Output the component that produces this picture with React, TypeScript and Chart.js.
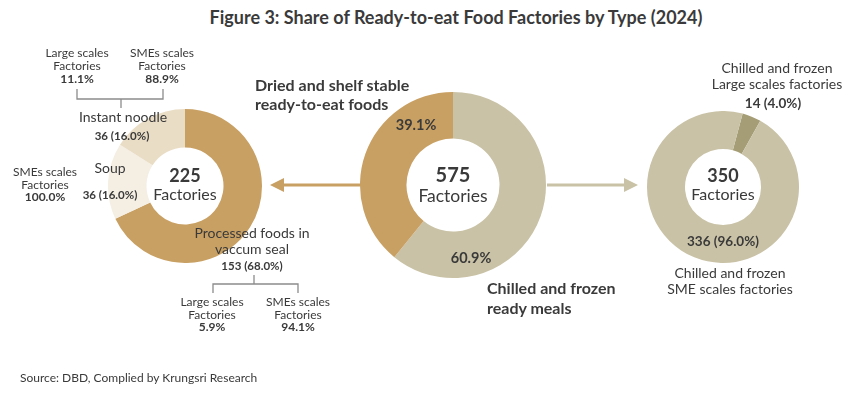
import React, { useEffect, useRef } from "react";
import { Chart, registerables } from "chart.js";

Chart.register(...registerables);

// ---- data ----
const leftLabels = ["Processed foods in vaccum seal", "Soup", "Instant noodle"];
const leftValues = [153, 36, 36];
const leftColors = ["#C9A063", "#F4EEE3", "#EADDC6"];

const midLabels = ["Chilled and frozen ready meals", "Dried and shelf stable ready-to-eat foods"];
const midValues = [350, 225];
const midColors = ["#C9C2A6", "#C9A063"];

const rightLabels = ["Chilled and frozen Large scales factories", "Chilled and frozen SME scales factories"];
const rightValues = [14, 336];
const rightColors = ["#A59D76", "#C9C2A6"];

const FONT = "Lato, 'Noto Sans', sans-serif";
const TXT = "#3a3a3a";

type DonutProps = { labels: string[]; values: number[]; colors: string[]; left: number; top: number; size: number; rotation?: number };

function Donut({ labels, values, colors, left, top, size, rotation = 0 }: DonutProps) {
  const ref = useRef<HTMLCanvasElement | null>(null);
  useEffect(() => {
    if (!ref.current) return;
    const chart = new Chart(ref.current, {
      type: "doughnut",
      data: { labels, datasets: [{ data: values, backgroundColor: colors, borderWidth: 0 }] },
      options: {
        responsive: false,
        animation: false,
        cutout: "50%",
        rotation,
        layout: { padding: 0 },
        plugins: { legend: { display: false }, tooltip: { enabled: false } },
      },
    });
    return () => chart.destroy();
  }, []);
  return <canvas ref={ref} width={size} height={size} style={{ position: "absolute", left, top, width: size, height: size }} />;
}

type TProps = { x: number; y: number; children: React.ReactNode; size?: number; bold?: boolean; align?: "center" | "left"; lh?: number };
function T({ x, y, children, size = 12, bold = false, align = "center", lh }: TProps) {
  return (
    <div
      style={{
        position: "absolute",
        left: x,
        top: y,
        transform: align === "center" ? "translate(-50%, -50%)" : "translate(0, -50%)",
        fontFamily: FONT,
        fontSize: size,
        fontWeight: bold ? 700 : 400,
        color: TXT,
        whiteSpace: "nowrap",
        textAlign: align,
        lineHeight: lh ? lh + "px" : "normal",
      }}
    >
      {children}
    </div>
  );
}

export default function App() {
  useEffect(() => {
    document.body.style.margin = "0";
  }, []);
  const total = (a: number[]) => a.reduce((s, v) => s + v, 0);
  const pct = (v: number, a: number[]) => ((v / total(a)) * 100).toFixed(1) + "%";
  return (
    <div style={{ position: "relative", width: 855, height: 398, background: "#fff", overflow: "hidden" }}>
      <T x={456} y={17} size={18} bold>
        Figure 3: Share of Ready-to-eat Food Factories by Type (2024)
      </T>

      <Donut labels={leftLabels} values={leftValues} colors={leftColors} left={108} top={109} size={154} />
      <Donut labels={midLabels} values={midValues} colors={midColors} left={360} top={92} size={186} />
      <Donut labels={rightLabels} values={rightValues} colors={rightColors} left={647} top={111} size={152} rotation={15} />

      <svg width={855} height={398} style={{ position: "absolute", left: 0, top: 0, pointerEvents: "none" }}>
        {/* arrows */}
        <line x1={360} y1={185} x2={282} y2={185} stroke="#C9A063" strokeWidth={3} />
        <polygon points="270,185 284,178 284,192" fill="#C9A063" />
        <line x1={547} y1={185} x2={626} y2={185} stroke="#C9C2A6" strokeWidth={3} />
        <polygon points="638,185 624,178 624,192" fill="#C9C2A6" />
        {/* brackets */}
        <g stroke="#8c8c8c" strokeWidth={1.3} fill="none">
          <polyline points="77,89 77,99 163,99 163,89" />
          <line x1={121} y1={99} x2={121} y2={108} />
          <polyline points="213,293 213,284 298,284 298,293" />
          <line x1={254} y1={275} x2={254} y2={284} />
        </g>
      </svg>

      {/* left donut annotations */}
      <T x={77} y={65} lh={13}>
        Large scales<br />Factories<br /><b>11.1%</b>
      </T>
      <T x={162} y={65} lh={13}>
        SMEs scales<br />Factories<br /><b>88.9%</b>
      </T>
      <T x={123} y={116} size={14}>{leftLabels[2]}</T>
      <T x={122} y={135} size={11.5} bold>{leftValues[2]} ({pct(leftValues[2], leftValues)})</T>
      <T x={110} y={167} size={14}>{leftLabels[1]}</T>
      <T x={110} y={194} size={11.5} bold>{leftValues[1]} ({pct(leftValues[1], leftValues)})</T>
      <T x={45} y={185} lh={12.5}>
        SMEs scales<br />Factories<br /><b>100.0%</b>
      </T>
      <T x={185} y={175} size={18} bold>{total(leftValues)}</T>
      <T x={185} y={193} size={16}>Factories</T>
      <T x={252} y={241} size={14} lh={16}>
        Processed foods in<br />vaccum seal
      </T>
      <T x={252} y={265} size={11.5} bold>{leftValues[0]} ({pct(leftValues[0], leftValues)})</T>
      <T x={212} y={315} lh={12.5}>
        Large scales<br />Factories<br /><b>5.9%</b>
      </T>
      <T x={298} y={315} lh={12.5}>
        SMEs scales<br />Factories<br /><b>94.1%</b>
      </T>

      {/* middle donut annotations */}
      <T x={255} y={94} size={16} bold align="left" lh={19}>
        Dried and shelf stable<br />ready-to-eat foods
      </T>
      <T x={416} y={124} size={14.5} bold>{pct(midValues[1], midValues)}</T>
      <T x={453} y={174} size={20} bold>{total(midValues)}</T>
      <T x={453} y={195} size={17.5}>Factories</T>
      <T x={471} y={257} size={14.5} bold>{pct(midValues[0], midValues)}</T>
      <T x={487} y={298} size={16} bold align="left" lh={20}>
        Chilled and frozen<br />ready meals
      </T>

      {/* right donut annotations */}
      <T x={777} y={76} size={14} lh={16}>
        Chilled and frozen<br />Large scales factories
      </T>
      <T x={773} y={103} size={13.5} bold>{rightValues[0]} ({pct(rightValues[0], rightValues)})</T>
      <T x={723} y={175} size={18} bold>{total(rightValues)}</T>
      <T x={723} y={193} size={16}>Factories</T>
      <T x={723} y={241} size={13.5} bold>{rightValues[1]} ({pct(rightValues[1], rightValues)})</T>
      <T x={730} y={281} size={14} lh={16}>
        Chilled and frozen<br />SME scales factories
      </T>

      <T x={20} y={377} size={12} align="left">
        Source: DBD, Complied by Krungsri Research
      </T>
    </div>
  );
}
